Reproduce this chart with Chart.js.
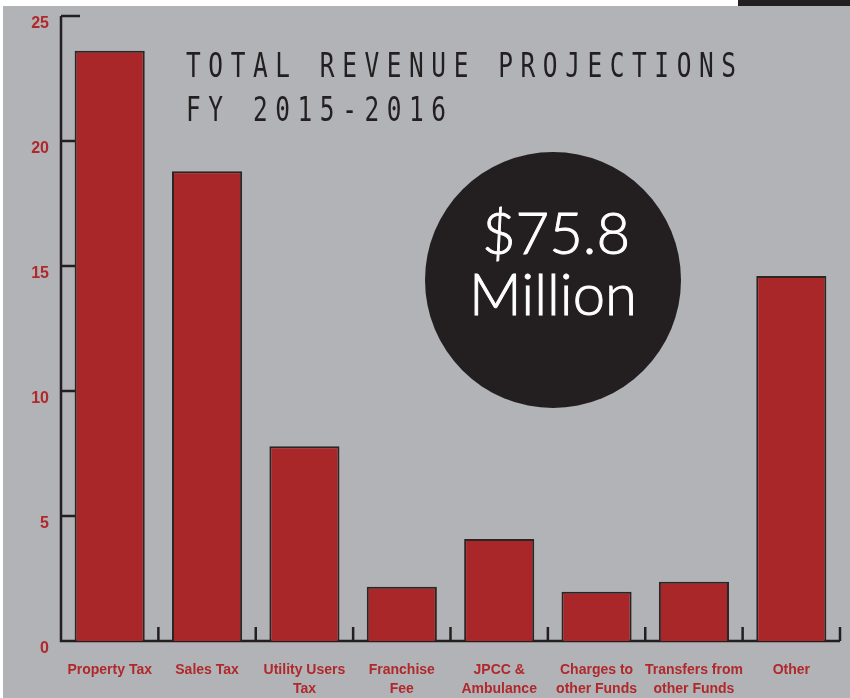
<!DOCTYPE html>
<html>
<head>
<meta charset="utf-8">
<script src="https://cdn.jsdelivr.net/npm/chart.js@4.4.1/dist/chart.umd.min.js"></script>
<style>
html,body{margin:0;padding:0;background:#fff;}
#wrap{width:850px;height:698px;}
</style>
</head>
<body>
<div id="wrap"><canvas id="c" width="850" height="698"></canvas></div>
<script>
const categories = [
  ['Property Tax'], ['Sales Tax'], ['Utility Users', 'Tax'], ['Franchise', 'Fee'],
  ['JPCC &', 'Ambulance'], ['Charges to', 'other Funds'], ['Transfers from', 'other Funds'], ['Other']
];
const revenue = [23.61, 18.79, 7.79, 2.17, 4.08, 1.97, 2.37, 14.6];
const yTicks = [0, 5, 10, 15, 20, 25];
const titleLines = ['TOTAL REVENUE PROJECTIONS', 'FY 2015-2016'];
const badgeLines = ['$75.8', 'Million'];

const RED_TXT = '#b0282b';
const INK = '#231f20';

const decor = {
  id: 'decor',
  beforeDraw(chart) {
    const ctx = chart.ctx;
    ctx.save();
    ctx.fillStyle = '#ffffff';
    ctx.fillRect(0, 0, 850, 698);
    ctx.fillStyle = '#b2b3b6';
    ctx.fillRect(3, 6, 847, 692);
    ctx.fillStyle = INK;
    ctx.fillRect(738, 0, 112, 6);
    ctx.restore();
  },
  beforeDatasetsDraw(chart) {
    const ctx = chart.ctx;
    const a = chart.chartArea;
    const x = chart.scales.x, y = chart.scales.y;
    ctx.save();
    ctx.strokeStyle = INK;
    ctx.lineWidth = 2.5;
    ctx.lineCap = 'butt';
    ctx.beginPath();
    ctx.moveTo(a.left, y.getPixelForValue(25));
    ctx.lineTo(a.left, y.getPixelForValue(0));
    ctx.lineTo(a.right, y.getPixelForValue(0));
    ctx.stroke();
    yTicks.forEach(v => {
      if (v === 0) return;
      const py = y.getPixelForValue(v);
      const len = v === 25 ? 19 : 14;
      ctx.beginPath();
      ctx.moveTo(a.left, py);
      ctx.lineTo(a.left + len, py);
      ctx.stroke();
    });
    const n = categories.length;
    const w = (a.right - a.left) / n;
    const by = y.getPixelForValue(0);
    for (let i = 1; i <= n; i++) {
      const px = x.getPixelForValue(i - 1) + w / 2;
      ctx.beginPath();
      ctx.moveTo(px, by);
      ctx.lineTo(px, by - 14);
      ctx.stroke();
    }
    ctx.restore();
  },
  afterDraw(chart) {
    const ctx = chart.ctx;
    ctx.save();
    ctx.fillStyle = INK;
    ctx.font = '34px "DejaVu Sans Mono"';
    ctx.textBaseline = 'alphabetic';
    ctx.textAlign = 'center';
    const pitch = 22.3;
    const baselines = [77, 121];
    titleLines.forEach((line, li) => {
      for (let i = 0; i < line.length; i++) {
        const cx = 186 + 7.4 + i * pitch;
        ctx.save();
        ctx.translate(cx, baselines[li]);
        ctx.scale(0.72, 1);
        ctx.fillText(line[i], 0, 0);
        ctx.restore();
      }
    });
    ctx.fillStyle = INK;
    ctx.beginPath();
    ctx.arc(553, 280, 128, 0, Math.PI * 2);
    ctx.fill();
    ctx.fillStyle = '#ffffff';
    ctx.strokeStyle = '#ffffff';
    ctx.lineWidth = 0.9;
    ctx.font = '300 58px Lato';
    ctx.textAlign = 'center';
    ctx.fillText(badgeLines[0], 556, 254);
    ctx.strokeText(badgeLines[0], 556, 254);
    ctx.fillText(badgeLines[1], 553, 315);
    ctx.strokeText(badgeLines[1], 553, 315);
    ctx.restore();
  }
};

new Chart(document.getElementById('c'), {
  type: 'bar',
  data: {
    labels: categories,
    datasets: [{
      data: revenue,
      backgroundColor: '#a92629',
      borderColor: '#2b2526',
      borderWidth: 2,
      barPercentage: 0.72,
      categoryPercentage: 1.0
    }]
  },
  options: {
    responsive: false,
    animation: false,
    devicePixelRatio: 1,
    layout: { padding: { top: 16, right: 10, left: 0, bottom: 0 } },
    plugins: { legend: { display: false }, tooltip: { enabled: false } },
    scales: {
      x: {
        offset: true,
        grid: { display: false, drawTicks: false },
        border: { display: false },
        ticks: {
          color: RED_TXT,
          font: { family: '"Liberation Sans", Arial, sans-serif', size: 14, weight: 'bold', lineHeight: 1.35 },
          padding: 20,
          maxRotation: 0,
          autoSkip: false
        },
        afterFit(s) { s.height = 57; s.paddingLeft = 0; s.paddingRight = 0; }
      },
      y: {
        min: 0,
        max: 25,
        grid: { display: false, drawTicks: false },
        border: { display: false },
        afterBuildTicks(s) { s.ticks = yTicks.map(v => ({ value: v })); },
        ticks: {
          color: RED_TXT,
          font: { family: '"Liberation Sans", Arial, sans-serif', size: 16, weight: 'bold' },
          padding: 12,
          labelOffset: 8
        },
        afterFit(s) { s.width = 61; s.paddingTop = 0; s.paddingBottom = 0; }
      }
    }
  },
  plugins: [decor]
});
</script>
</body>
</html>
